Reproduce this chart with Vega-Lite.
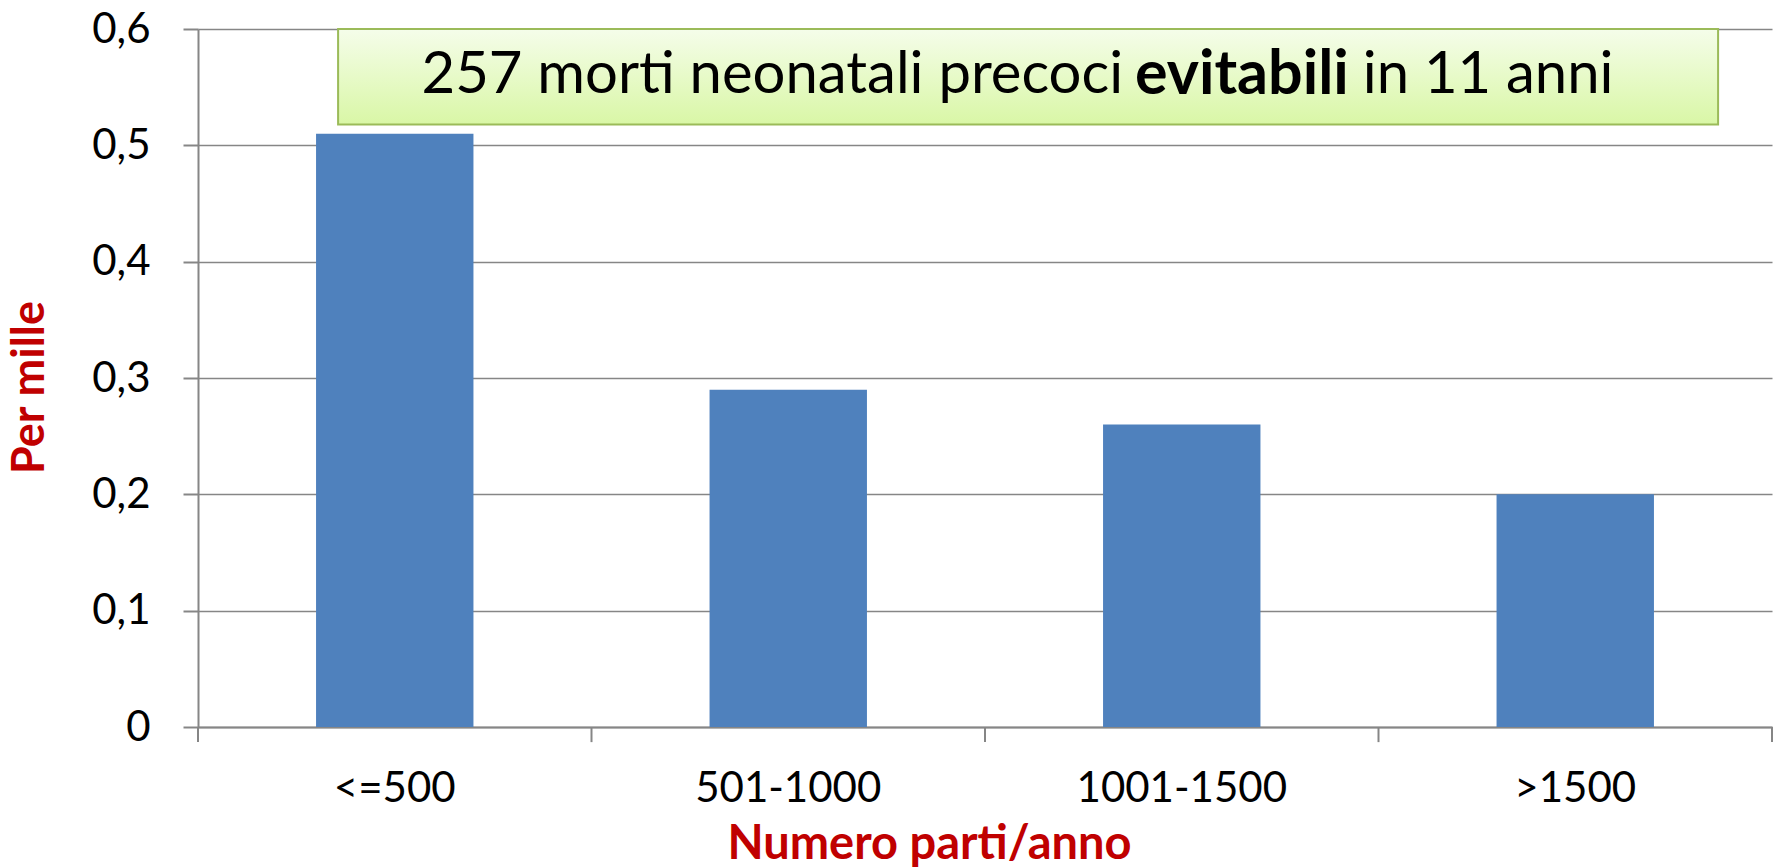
{
  "$schema": "https://vega.github.io/schema/vega-lite/v6.json",
  "width": 1574,
  "height": 698,
  "autosize": {"type": "none"},
  "padding": {"left": 198, "top": 29, "right": 5, "bottom": 140},
  "background": "white",
  "config": {"view": {"stroke": null}, "font": "Lato"},
  "resolve": {"scale": {"x": "independent"}},
  "layer": [
    {
      "data": {"values": [
        {"cat": "<=500", "v": 0.51},
        {"cat": "501-1000", "v": 0.29},
        {"cat": "1001-1500", "v": 0.26},
        {"cat": ">1500", "v": 0.20}
      ]},
      "mark": {"type": "bar", "color": "#4f81bd"},
      "encoding": {
        "x": {
          "field": "cat", "type": "nominal", "sort": null,
          "scale": {"paddingInner": 0.6, "paddingOuter": 0.3},
          "axis": {
            "labelAngle": 0, "labelFont": "Lato", "labelFontSize": 42, "labelColor": "black",
            "labelBaseline": "middle", "labelPadding": 61, "ticks": false, "labelLimit": 0,
            "domainColor": "#868686", "domainWidth": 2,
            "title": "Numero parti/anno", "titleColor": "#c00000", "titleFont": "Lato",
            "titleFontSize": 47, "titleFontWeight": "bold",
            "titleX": 731, "titleY": 117, "titleBaseline": "middle", "titleAlign": "center"
          }
        },
        "y": {
          "field": "v", "type": "quantitative",
          "scale": {"domain": [0, 0.6], "nice": false},
          "axis": {
            "values": [0, 0.1, 0.2, 0.3, 0.4, 0.5, 0.6],
            "labelExpr": "replace(format(datum.value, '.1~f'), '.', ',')",
            "labelFont": "Lato", "labelFontSize": 42, "labelColor": "black",
            "labelPadding": 33, "labelFlush": false, "labelOverlap": false, "labelBound": false,
            "tickColor": "#868686", "tickWidth": 2, "tickSize": 15,
            "domainColor": "#868686", "domainWidth": 2,
            "grid": true, "gridColor": "#868686", "gridWidth": 1.5,
            "title": "Per mille", "titleColor": "#c00000", "titleFont": "Lato",
            "titleFontSize": 45, "titleFontWeight": "bold",
            "titleX": -169, "titleY": 358, "titleAngle": -90,
            "titleBaseline": "middle", "titleAlign": "center"
          }
        }
      }
    },
    {
      "data": {"values": [{"b": 0}, {"b": 1}, {"b": 2}, {"b": 3}, {"b": 4}]},
      "mark": {"type": "rule", "color": "#868686", "strokeWidth": 2},
      "encoding": {
        "x": {"field": "b", "type": "quantitative", "scale": {"domain": [0, 4], "nice": false}, "axis": null},
        "y": {"datum": 0},
        "y2": {"datum": -0.013}
      }
    },
    {
      "data": {"values": [{"note": "box"}]},
      "layer": [
        {
          "mark": {"type": "rect", "fill": "#9a9a9a", "opacity": 0.4, "xOffset": 3, "yOffset": 5},
          "encoding": {
            "x": {"datum": 0.356, "type": "quantitative", "scale": {"domain": [0, 4], "nice": false}, "axis": null},
            "x2": {"datum": 3.863},
            "y": {"datum": 0.6},
            "y2": {"datum": 0.518}
          }
        },
        {
          "mark": {
            "type": "rect", "stroke": "#9bbb59", "strokeWidth": 2,
            "fill": {"gradient": "linear", "x1": 0, "y1": 0, "x2": 0, "y2": 1,
              "stops": [{"offset": 0, "color": "#f5fdea"}, {"offset": 1, "color": "#d9f7a6"}]}
          },
          "encoding": {
            "x": {"datum": 0.356, "type": "quantitative", "scale": {"domain": [0, 4], "nice": false}, "axis": null},
            "x2": {"datum": 3.863},
            "y": {"datum": 0.6},
            "y2": {"datum": 0.518}
          }
        },
        {
          "mark": {"type": "text", "font": "Lato", "fontSize": 58, "color": "black", "align": "right", "baseline": "middle",
            "text": "257 morti neonatali precoci"},
          "encoding": {
            "x": {"datum": 2.351, "type": "quantitative", "scale": {"domain": [0, 4], "nice": false}, "axis": null},
            "y": {"datum": 0.5595}
          }
        },
        {
          "mark": {"type": "text", "font": "Lato", "fontSize": 61, "fontWeight": "bold", "color": "black", "align": "left", "baseline": "middle",
            "text": "evitabili"},
          "encoding": {
            "x": {"datum": 2.381, "type": "quantitative", "scale": {"domain": [0, 4], "nice": false}, "axis": null},
            "y": {"datum": 0.5595}
          }
        },
        {
          "mark": {"type": "text", "font": "Lato", "fontSize": 58, "color": "black", "align": "left", "baseline": "middle",
            "text": "in 11 anni"},
          "encoding": {
            "x": {"datum": 2.96, "type": "quantitative", "scale": {"domain": [0, 4], "nice": false}, "axis": null},
            "y": {"datum": 0.5595}
          }
        }
      ]
    }
  ]
}
